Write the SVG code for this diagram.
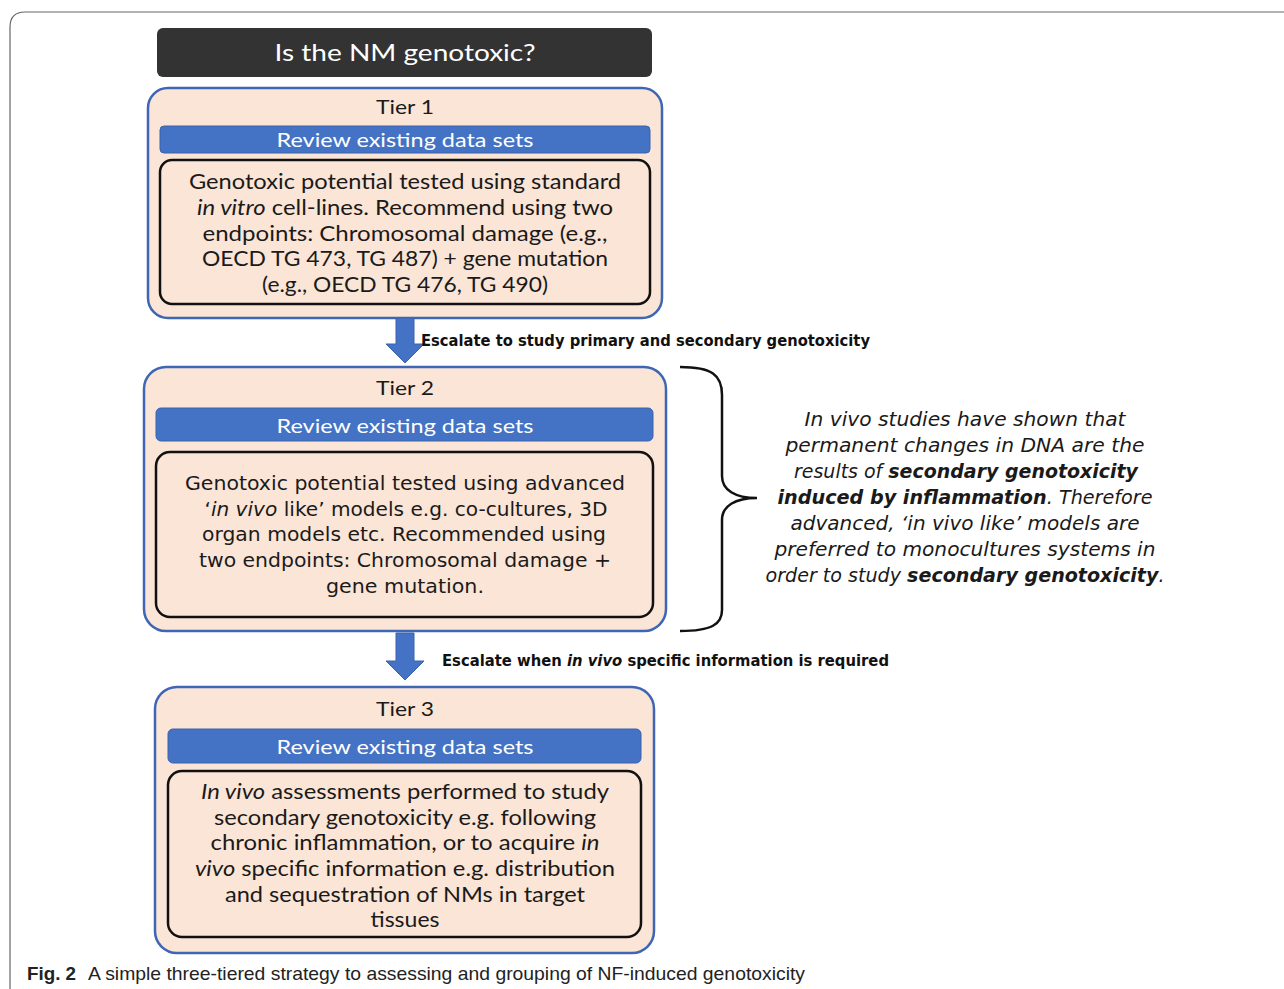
<svg xmlns="http://www.w3.org/2000/svg" width="1284" height="989" viewBox="0 0 1284 989">
<style>
.frame{fill:none;stroke:#666;stroke-width:1.2}
.tier{fill:#fbe5d6;stroke:#3e66b4;stroke-width:2.5}
.bar{fill:#4472c4;stroke:#3a62ad;stroke-width:1}
.inner{fill:none;stroke:#111;stroke-width:2.5}
.cal{font-family:Lato,"Liberation Sans",sans-serif;fill:#1a1a1a}
.ver{font-family:"DejaVu Sans","Open Sans",sans-serif;fill:#1a1a1a}
.wt{fill:#fff}
.arrow{fill:#4472c4;stroke:#3a62ad;stroke-width:1}
.brace{fill:none;stroke:#111;stroke-width:2.5}
.lbl{font-family:"DejaVu Sans",sans-serif;font-weight:bold;font-size:15px;fill:#111}
.cap{font-family:"Liberation Sans",sans-serif;font-size:19px;fill:#222}
</style>
<rect width="1284" height="989" fill="#fff"/>
<path class="frame" d="M10,989 V27 Q10,12 25,12 H1284"/>

<g id="title">
<rect x="157" y="28" width="495" height="49" rx="6" fill="#333"/>
<text x="405" y="61" text-anchor="middle" class="cal wt" font-size="23" textLength="261" lengthAdjust="spacingAndGlyphs">Is the NM genotoxic?</text>
</g>

<g id="tier1">
<rect class="tier" x="148" y="88" width="514" height="230" rx="20"/>
<text x="405" y="114" text-anchor="middle" class="cal" font-size="20" textLength="58" lengthAdjust="spacingAndGlyphs">Tier 1</text>
<rect class="bar" x="160" y="126" width="490" height="27" rx="4"/>
<text x="405" y="147" text-anchor="middle" class="cal wt" font-size="20" textLength="257" lengthAdjust="spacingAndGlyphs">Review existing data sets</text>
<rect class="inner" x="160" y="160" width="490" height="144" rx="12"/>
<g class="cal" font-size="21" text-anchor="middle">
<text x="405" y="189" textLength="432" lengthAdjust="spacingAndGlyphs">Genotoxic potential tested using standard</text>
<text x="405" y="215" textLength="416" lengthAdjust="spacingAndGlyphs"><tspan font-style="italic">in vitro</tspan> cell-lines. Recommend using two</text>
<text x="405" y="241" textLength="405" lengthAdjust="spacingAndGlyphs">endpoints: Chromosomal damage (e.g.,</text>
<text x="405" y="266" textLength="406" lengthAdjust="spacingAndGlyphs">OECD TG 473, TG 487) + gene mutation</text>
<text x="405" y="292" textLength="286" lengthAdjust="spacingAndGlyphs">(e.g., OECD TG 476, TG 490)</text>
</g>
</g>

<g id="tier2">
<rect class="tier" x="144" y="367" width="522" height="264" rx="22"/>
<text x="405" y="395" text-anchor="middle" class="cal" font-size="20" textLength="58" lengthAdjust="spacingAndGlyphs">Tier 2</text>
<rect class="bar" x="156" y="408" width="497" height="33" rx="5"/>
<text x="405" y="433" text-anchor="middle" class="cal wt" font-size="20" textLength="257" lengthAdjust="spacingAndGlyphs">Review existing data sets</text>
<rect class="inner" x="156" y="452" width="497" height="165" rx="14"/>
<g class="ver" font-size="19" text-anchor="middle">
<text x="405" y="490" textLength="440" lengthAdjust="spacingAndGlyphs">Genotoxic potential tested using advanced</text>
<text x="406" y="516" textLength="403" lengthAdjust="spacingAndGlyphs">‘<tspan font-style="italic">in vivo</tspan> like’ models e.g. co-cultures, 3D</text>
<text x="404" y="541" textLength="404" lengthAdjust="spacingAndGlyphs">organ models etc. Recommended using</text>
<text x="405" y="567" textLength="412" lengthAdjust="spacingAndGlyphs">two endpoints: Chromosomal damage +</text>
<text x="405" y="593" textLength="158" lengthAdjust="spacingAndGlyphs">gene mutation.</text>
</g>
</g>

<g id="tier3">
<rect class="tier" x="155" y="687" width="499" height="266" rx="22"/>
<text x="405" y="716" text-anchor="middle" class="cal" font-size="20" textLength="58" lengthAdjust="spacingAndGlyphs">Tier 3</text>
<rect class="bar" x="168" y="729" width="473" height="34" rx="5"/>
<text x="405" y="754" text-anchor="middle" class="cal wt" font-size="20" textLength="257" lengthAdjust="spacingAndGlyphs">Review existing data sets</text>
<rect class="inner" x="168" y="771" width="473" height="166" rx="14"/>
<g class="cal" font-size="21" text-anchor="middle">
<text x="405" y="799" textLength="408" lengthAdjust="spacingAndGlyphs"><tspan font-style="italic">In vivo</tspan> assessments performed to study</text>
<text x="405" y="825" textLength="382" lengthAdjust="spacingAndGlyphs">secondary genotoxicity e.g. following</text>
<text x="405" y="850" textLength="389" lengthAdjust="spacingAndGlyphs">chronic inflammation, or to acquire <tspan font-style="italic">in</tspan></text>
<text x="405" y="876" textLength="420" lengthAdjust="spacingAndGlyphs"><tspan font-style="italic">vivo</tspan> specific information e.g. distribution</text>
<text x="405" y="902" textLength="360" lengthAdjust="spacingAndGlyphs">and sequestration of NMs in target</text>
<text x="405" y="927" textLength="69" lengthAdjust="spacingAndGlyphs">tissues</text>
</g>
</g>

<g id="note">
<g class="ver" font-size="19" font-style="italic" text-anchor="middle">
<text x="965" y="426" textLength="321" lengthAdjust="spacingAndGlyphs">In vivo studies have shown that</text>
<text x="965" y="452" textLength="359" lengthAdjust="spacingAndGlyphs">permanent changes in DNA are the</text>
<text x="966" y="478" textLength="344" lengthAdjust="spacingAndGlyphs">results of <tspan font-weight="bold">secondary genotoxicity</tspan></text>
<text x="965" y="504" textLength="375" lengthAdjust="spacingAndGlyphs"><tspan font-weight="bold">induced by inflammation</tspan>. Therefore</text>
<text x="965" y="530" textLength="349" lengthAdjust="spacingAndGlyphs">advanced, ‘in vivo like’ models are</text>
<text x="965" y="556" textLength="381" lengthAdjust="spacingAndGlyphs">preferred to monocultures systems in</text>
<text x="965" y="582" textLength="399" lengthAdjust="spacingAndGlyphs">order to study <tspan font-weight="bold">secondary genotoxicity</tspan>.</text>
</g>
</g>

<g id="connectors">
<polygon class="arrow" points="396,318 414,318 414,344 424,344 405,363 386,344 396,344"/>
<polygon class="arrow" points="396,633 414,633 414,661 424,661 405,680 386,661 396,661"/>
<path class="brace" d="M680,367 C712,367 722,375 722,395 L722,476 C722,490 735,498 757,498 C735,498 722,506 722,520 L722,610 C722,624 712,631 680,631"/>
<text x="421" y="346" class="lbl" textLength="449" lengthAdjust="spacingAndGlyphs">Escalate to study primary and secondary genotoxicity</text>
<text x="442" y="666" class="lbl" textLength="447" lengthAdjust="spacingAndGlyphs">Escalate when <tspan font-style="italic">in vivo</tspan> specific information is required</text>
</g>

<g id="caption">
<text x="27" y="980" class="cap"><tspan font-weight="bold" textLength="49" lengthAdjust="spacingAndGlyphs">Fig. 2</tspan></text>
<text x="88" y="980" class="cap" textLength="717" lengthAdjust="spacingAndGlyphs">A simple three-tiered strategy to assessing and grouping of NF-induced genotoxicity</text>
</g>
</svg>
